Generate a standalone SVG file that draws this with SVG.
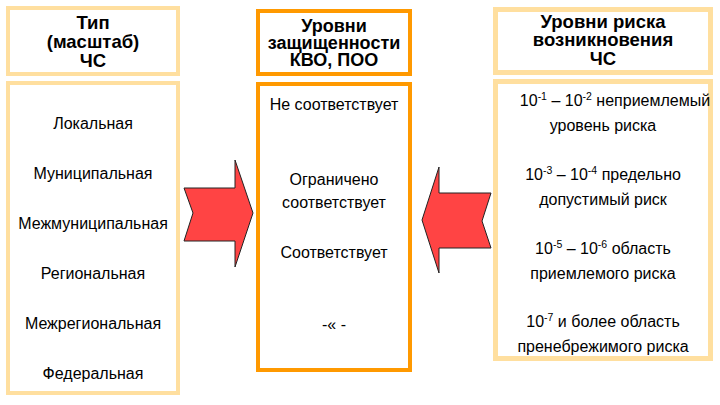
<svg xmlns="http://www.w3.org/2000/svg" width="720" height="405" viewBox="0 0 720 405">
<style>
.lb{fill:#fff;stroke:#FFDF9F;stroke-width:4}
.rb{fill:#fff;stroke:#FFDF9F;stroke-width:5}
.cb{fill:#fff;stroke:#FF9900;stroke-width:4}
.h{font-family:"Liberation Sans",Arial,sans-serif;font-weight:bold;font-size:18.5px;text-anchor:middle;fill:#000}
.hc{font-size:18px}
.t{font-family:"Liberation Sans",Arial,sans-serif;font-size:16px;text-anchor:middle;fill:#000}
.s{font-size:10.5px}
.arr{fill:#FF4444;stroke:#222;stroke-width:1;stroke-linejoin:miter}
</style>
<rect width="720" height="405" fill="#fff"/>
<g id="left-title">
<rect class="lb" x="8" y="8" width="170" height="66"/>
<text class="h" x="93" y="29">Тип<tspan x="93" dy="19">(масштаб)</tspan><tspan x="93" dy="19">ЧС</tspan></text>
</g>
<g id="left-list">
<rect class="lb" x="8" y="83" width="170" height="310"/>
<text class="t" x="93" y="129">Локальная</text>
<text class="t" x="93" y="179">Муниципальная</text>
<text class="t" x="93" y="229">Межмуниципальная</text>
<text class="t" x="93" y="279">Региональная</text>
<text class="t" x="93" y="329">Межрегиональная</text>
<text class="t" x="93" y="379">Федеральная</text>
</g>
<g id="center-title">
<rect class="cb" x="258" y="11" width="152" height="63"/>
<text class="h hc" x="334" y="32">Уровни<tspan x="334" dy="17">защищенности</tspan><tspan x="334" dy="17">КВО, ПОО</tspan></text>
</g>
<g id="center-list">
<rect class="cb" x="258" y="84" width="152" height="286"/>
<text class="t" x="334" y="110">Не соответствует</text>
<text class="t" x="334" y="185">Ограничено</text>
<text class="t" x="334" y="208">соответствует</text>
<text class="t" x="334" y="258">Соответствует</text>
<text class="t" x="334" y="330">-« -</text>
</g>
<g id="right-title">
<rect class="rb" x="495.5" y="9.5" width="215" height="63"/>
<text class="h" x="603" y="28">Уровни риска<tspan x="603" dy="18">возникновения</tspan><tspan x="603" dy="19">ЧС</tspan></text>
</g>
<g id="right-list">
<rect class="rb" x="495.5" y="81.5" width="215" height="277"/>
<text class="t" x="615" y="106">10<tspan class="s" dy="-6">-1</tspan><tspan dy="6"> – 10</tspan><tspan class="s" dy="-6">-2</tspan><tspan dy="6"> неприемлемый</tspan></text>
<text class="t" x="603" y="131">уровень риска</text>
<text class="t" x="603" y="180">10<tspan class="s" dy="-6">-3</tspan><tspan dy="6"> – 10</tspan><tspan class="s" dy="-6">-4</tspan><tspan dy="6"> предельно</tspan></text>
<text class="t" x="603" y="205">допустимый риск</text>
<text class="t" x="603" y="254">10<tspan class="s" dy="-6">-5</tspan><tspan dy="6"> – 10</tspan><tspan class="s" dy="-6">-6</tspan><tspan dy="6"> область</tspan></text>
<text class="t" x="603" y="279">приемлемого риска</text>
<text class="t" x="603" y="327">10<tspan class="s" dy="-6">-7</tspan><tspan dy="6"> и более область</tspan></text>
<text class="t" x="603" y="352">пренебрежимого риска</text>
</g>
<g id="connectors">
<polygon class="arr" points="184,188 235,188 235,160 253,213 235,267 235,241 184,241 193,213"/>
<polygon class="arr" points="491,193 439,193 439,167 422,220 439,273 439,248 491,248 482,221"/>
</g>
</svg>
